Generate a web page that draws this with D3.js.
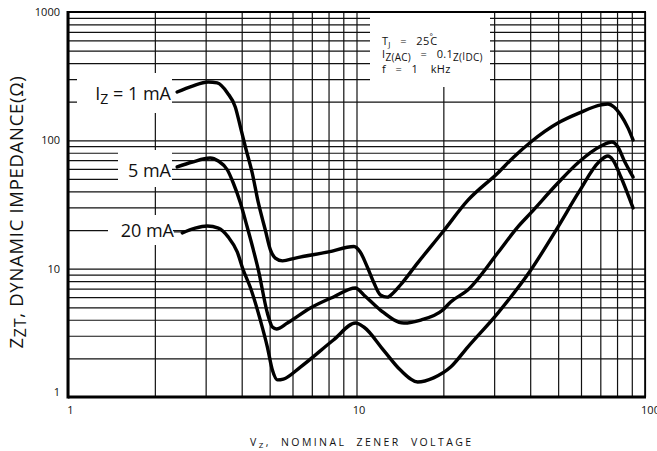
<!DOCTYPE html>
<html>
<head>
<meta charset="utf-8">
<script src="https://cdn.jsdelivr.net/npm/d3@7"></script>
<style>
  html, body { margin: 0; padding: 0; background: #fff; }
  svg { display: block; }
  text { font-family: "Open Sans", "DejaVu Sans", sans-serif; fill: #111; white-space: pre; }
</style>
</head>
<body>
<svg id="chart" width="657" height="451"></svg>
<script>
// ---------------- data ----------------
const vz_1mA  = [2.39, 2.70, 3.06, 3.29, 3.57, 3.80, 3.96, 4.12, 4.35, 4.57, 4.83, 5.03, 5.23, 5.54, 6.14, 8.0, 9.8, 10.3, 10.9, 11.5, 12.1, 12.8, 13.4, 14.2, 16.3, 19.9, 24.3, 30.9, 35.1, 40.2, 49.9, 59.0, 70.4, 74.4, 78.1, 82.5, 87.3, 90.9];
const zzt_1mA = [238, 265, 285, 280, 234, 182, 127, 88.7, 55.7, 32.5, 20.0, 14.0, 12.1, 11.5, 12.1, 13.5, 14.9, 13.5, 10.3, 7.73, 6.24, 6.0, 6.46, 7.46, 11.1, 19.3, 34, 55.7, 74.2, 97.1, 136.5, 163, 189, 192, 182, 157, 125, 100.6];

const vz_5mA  = [2.39, 2.70, 3.11, 3.32, 3.57, 3.74, 3.96, 4.18, 4.39, 4.57, 4.91, 5.11, 5.28, 5.76, 6.92, 8.32, 9.92, 10.6, 12.1, 14.6, 16.7, 19.9, 21.2, 24.3, 30.9, 36.2, 40.2, 49.9, 59.0, 70.4, 76.8, 80.6, 84.5, 90.9];
const zzt_5mA = [62.0, 67.8, 72.9, 69.0, 58.7, 46.5, 32.5, 21.1, 14.0, 9.76, 4.51, 3.51, 3.39, 3.77, 4.94, 6.02, 7.07, 6.24, 4.76, 3.77, 3.98, 4.76, 5.50, 6.82, 13.3, 21.1, 27.2, 46.5, 67.8, 90.3, 97.1, 88.7, 70.3, 51.8];

const vz_20mA  = [2.49, 2.76, 3.04, 3.32, 3.59, 3.86, 4.05, 4.28, 4.64, 4.91, 5.11, 5.32, 5.58, 6.39, 8.32, 9.92, 10.6, 12.4, 14.2, 16.3, 18.5, 21.2, 24.3, 30.9, 40.2, 49.9, 59.0, 69.2, 74.4, 77.4, 82.5, 90.9];
const zzt_20mA = [19.0, 20.7, 21.5, 20.7, 17.7, 13.5, 9.76, 7.2, 3.98, 2.45, 1.62, 1.36, 1.38, 1.71, 2.78, 3.77, 3.51, 2.32, 1.62, 1.31, 1.41, 1.71, 2.45, 4.51, 9.76, 21.1, 39.6, 67.8, 75.5, 70.3, 51.8, 29.7];

const xTickLabels = [1, 10, 100];
const yTickLabels = [1, 10, 100, 1000];
const seriesNames = ["1 mA", "5 mA", "20 mA"];

// ---------------- layout ----------------
const L = 68, R = 645, T = 12, B = 397;
const svg = d3.select("#chart");

const x = d3.scaleLog().domain([1, 100]).range([L, R]);
const y = d3.scaleLog().domain([1, 1000]).range([B, T]);

// grid values (log minor lines)
const gridX = [];
[1, 10].forEach(d => { for (let k = 1; k <= 9; k++) gridX.push(k * d); });
gridX.push(100);
const gridY = [];
[1, 10, 100].forEach(d => { for (let k = 1; k <= 9; k++) gridY.push(k * d); });
gridY.push(1000);

const gx = svg.append("g").attr("transform", `translate(0,${B})`)
  .call(d3.axisBottom(x).tickValues(gridX).tickSize(-(B - T)).tickFormat(""));
gx.select(".domain").remove();
gx.selectAll("line").attr("stroke", "#111").attr("stroke-width", 1.2);

const gy = svg.append("g").attr("transform", `translate(${L},0)`)
  .call(d3.axisLeft(y).tickValues(gridY).tickSize(-(R - L)).tickFormat(""));
gy.select(".domain").remove();
gy.selectAll("line").attr("stroke", "#111").attr("stroke-width", 1.2);

// frame
svg.append("line").attr("x1", L).attr("x2", L).attr("y1", T - 1).attr("y2", B + 1.5).attr("stroke", "#000").attr("stroke-width", 3);
svg.append("line").attr("x1", L).attr("x2", R + 1).attr("y1", B).attr("y2", B).attr("stroke", "#000").attr("stroke-width", 3);
svg.append("line").attr("x1", L).attr("x2", R + 1).attr("y1", T).attr("y2", T).attr("stroke", "#000").attr("stroke-width", 2);
svg.append("line").attr("x1", R).attr("x2", R).attr("y1", T).attr("y2", B).attr("stroke", "#000").attr("stroke-width", 1.6);

// white boxes behind annotations
const boxes = [
  [370, 13, 120, 74],   // conditions
  [77, 73, 95, 40],     // 1 mA
  [118, 150, 54, 37],   // 5 mA
  [108, 215, 65, 30]    // 20 mA
];
svg.selectAll("rect.box").data(boxes).enter().append("rect")
  .attr("class", "box")
  .attr("x", d => d[0]).attr("y", d => d[1]).attr("width", d => d[2]).attr("height", d => d[3])
  .attr("fill", "#fff");

// tick labels via axes
const ax = svg.append("g").attr("transform", `translate(0,${B})`)
  .call(d3.axisBottom(x).tickValues(xTickLabels).tickSize(0).tickPadding(9).tickFormat(d3.format("d")));
ax.select(".domain").remove();
ax.selectAll("text").attr("font-size", 11).attr("font-family", "Open Sans, sans-serif").attr("fill", "#111")
  .attr("dx", d => d === 100 ? 5 : 2);

const ay = svg.append("g").attr("transform", `translate(${L},0)`)
  .call(d3.axisLeft(y).tickValues(yTickLabels).tickSize(0).tickPadding(8).tickFormat(d3.format("d")));
ay.select(".domain").remove();
ay.selectAll("text").attr("font-size", 11).attr("font-family", "Open Sans, sans-serif").attr("fill", "#111")
  .attr("dy", d => d === 1 ? "-0.1em" : "0.32em");

// curves
const line = d3.line().x(d => x(d[0])).y(d => y(d[1])).curve(d3.curveMonotoneX);
const series = [
  d3.zip(vz_1mA, zzt_1mA),
  d3.zip(vz_5mA, zzt_5mA),
  d3.zip(vz_20mA, zzt_20mA)
];
svg.selectAll("path.curve").data(series).enter().append("path")
  .attr("class", "curve")
  .attr("d", line)
  .attr("fill", "none")
  .attr("stroke", "#000")
  .attr("stroke-width", 3.4)
  .attr("stroke-linecap", "round")
  .attr("stroke-linejoin", "round");

// series labels
const lab1 = svg.append("text").attr("x", 171).attr("y", 100).attr("text-anchor", "end").attr("font-size", 18);
lab1.append("tspan").text("I");
lab1.append("tspan").attr("font-size", 14).attr("dy", 4).text("Z");
lab1.append("tspan").attr("dy", -4).text(" = " + seriesNames[0]);

svg.append("text").attr("x", 171).attr("y", 177).attr("text-anchor", "end").attr("font-size", 18).text(seriesNames[1]);
svg.append("text").attr("x", 174).attr("y", 237).attr("text-anchor", "end").attr("font-size", 18).text(seriesNames[2]);
// small dash joining "20 mA" to its curve
svg.append("line").attr("x1", 174).attr("x2", x(vz_20mA[0])).attr("y1", y(zzt_20mA[0]) - 1).attr("y2", y(zzt_20mA[0]) - 1)
  .attr("stroke", "#111").attr("stroke-width", 1.2);

// conditions text
const c1 = svg.append("text").attr("x", 382).attr("y", 45).attr("font-size", 11).attr("letter-spacing", 0.3);
c1.append("tspan").text("T");
c1.append("tspan").attr("font-size", 8).attr("dy", 2).text("J");
c1.append("tspan").attr("dy", -2).text("   =   25");
c1.append("tspan").attr("font-size", 8).attr("dy", -6).text("°");
c1.append("tspan").attr("dy", 6).attr("dx", -3).text("C");

const c2 = svg.append("text").attr("x", 382).attr("y", 58).attr("font-size", 11).attr("letter-spacing", 0.3);
c2.append("tspan").text("I");
c2.append("tspan").attr("font-size", 10).attr("dy", 3).text("Z(AC)");
c2.append("tspan").attr("dy", -3).text("   =   0.1");
c2.append("tspan").attr("font-size", 10).attr("dy", 3).text("Z(");
c2.append("tspan").attr("font-size", 10).attr("dy", -1).text("I");
c2.append("tspan").attr("font-size", 10).attr("dy", 1).text("DC)");

svg.append("text").attr("x", 382).attr("y", 73).attr("font-size", 11).attr("letter-spacing", 0.3).text("f   =   1    kHz");

// axis titles
const xt = svg.append("text").attr("x", 250).attr("y", 446).attr("font-size", 10.5).attr("letter-spacing", 2.4);
xt.append("tspan").text("V");
xt.append("tspan").attr("font-size", 8).attr("dy", 2).text("Z");
xt.append("tspan").attr("dy", -2).text(",  NOMINAL  ZENER  VOLTAGE");

const yt = svg.append("text").attr("transform", "translate(23,212) rotate(-90)").attr("text-anchor", "middle").attr("font-size", 18.5).attr("letter-spacing", 0.7);
yt.append("tspan").text("Z");
yt.append("tspan").attr("font-size", 16).attr("dy", 3).text("ZT");
yt.append("tspan").attr("dy", -3).text(", DYNAMIC IMPEDANCE(Ω)");
</script>
</body>
</html>
